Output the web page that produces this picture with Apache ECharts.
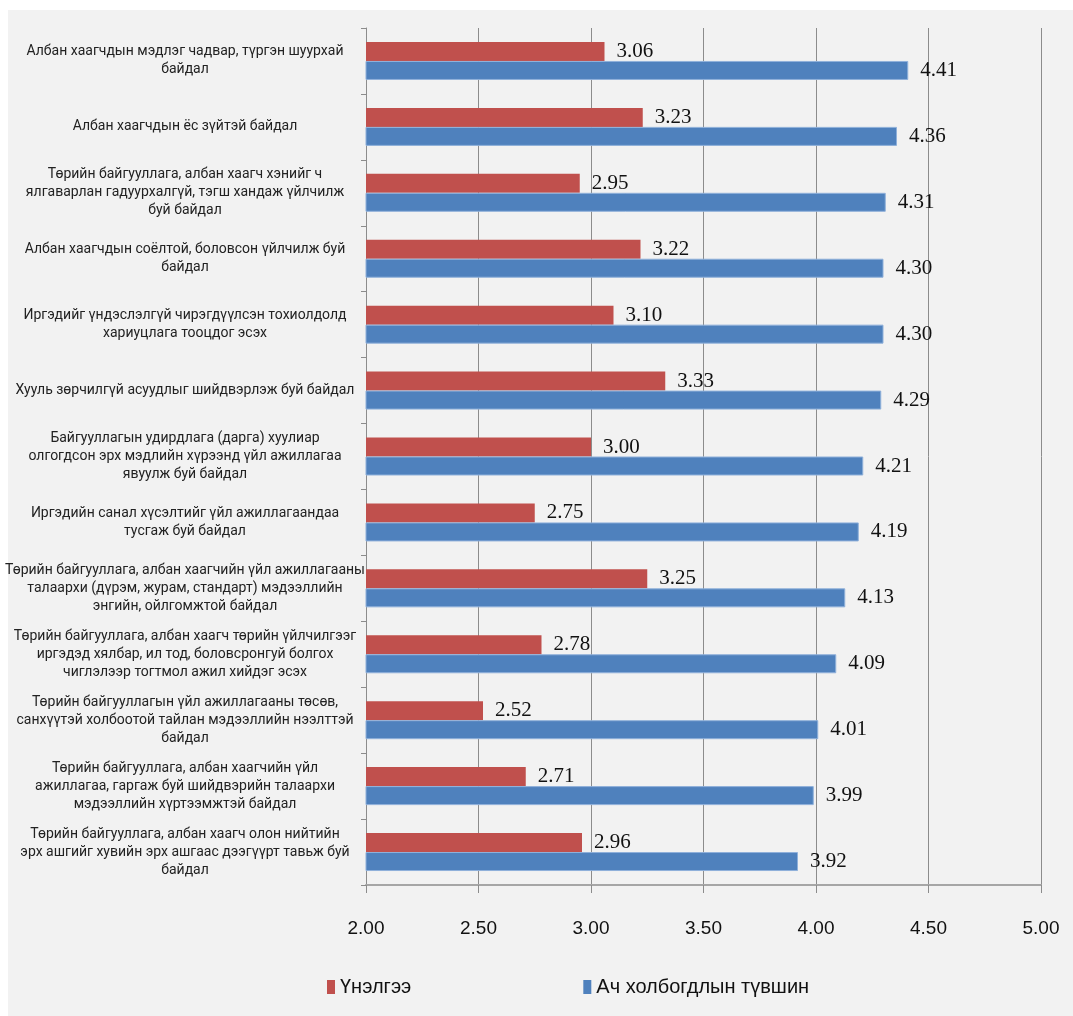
<!DOCTYPE html>
<html><head><meta charset="utf-8">
<script src="https://cdn.jsdelivr.net/npm/echarts@6/dist/echarts.min.js"></script>
<style>
html,body{margin:0;padding:0;background:#fff;}
#bg{position:absolute;left:8px;top:10px;width:1065px;height:1006px;background:#F2F2F2;}
#chart{position:absolute;left:0;top:0;width:1073px;height:1016px;}
</style></head>
<body>
<div id="bg"></div>
<div id="chart"></div>
<script>
const categories = [
  "Албан хаагчдын мэдлэг чадвар, түргэн шуурхай\nбайдал",
  "Албан хаагчдын ёс зүйтэй байдал",
  "Төрийн байгууллага, албан хаагч хэнийг ч\nялгаварлан гадуурхалгүй, тэгш хандаж үйлчилж\nбуй байдал",
  "Албан хаагчдын соёлтой, боловсон үйлчилж буй\nбайдал",
  "Иргэдийг үндэслэлгүй чирэгдүүлсэн тохиолдолд\nхариуцлага тооцдог эсэх",
  "Хууль зөрчилгүй асуудлыг шийдвэрлэж буй байдал",
  "Байгууллагын удирдлага (дарга) хуулиар\nолгогдсон эрх мэдлийн хүрээнд үйл ажиллагаа\nявуулж буй байдал",
  "Иргэдийн санал хүсэлтийг үйл ажиллагаандаа\nтусгаж буй байдал",
  "Төрийн байгууллага, албан хаагчийн үйл ажиллагааны\nталаархи (дүрэм, журам, стандарт) мэдээллийн\nэнгийн, ойлгомжтой байдал",
  "Төрийн байгууллага, албан хаагч төрийн үйлчилгээг\nиргэдэд хялбар, ил тод, боловсронгуй болгох\nчиглэлээр тогтмол ажил хийдэг эсэх",
  "Төрийн байгууллагын үйл ажиллагааны төсөв,\nсанхүүтэй холбоотой тайлан мэдээллийн нээлттэй\nбайдал",
  "Төрийн байгууллага, албан хаагчийн үйл\nажиллагаа, гаргаж буй шийдвэрийн талаархи\nмэдээллийн хүртээмжтэй байдал",
  "Төрийн байгууллага, албан хаагч олон нийтийн\nэрх ашгийг хувийн эрх ашгаас дээгүүрт тавьж буй\nбайдал"
];
const seriesNames = ["Үнэлгээ", "Ач холбогдлын түвшин"];
const evaluation = [3.06, 3.23, 2.95, 3.22, 3.10, 3.33, 3.00, 2.75, 3.25, 2.78, 2.52, 2.71, 2.96];
const importance = [4.41, 4.36, 4.31, 4.30, 4.30, 4.29, 4.21, 4.19, 4.13, 4.09, 4.01, 3.99, 3.92];

const chart = echarts.init(document.getElementById('chart'));
const labelFont = {show:true, position:'right', distance:12, color:'#111', fontFamily:"'Liberation Serif', serif", fontSize:21,
  formatter: p => p.value.toFixed(2)};
const catFont = "Roboto, 'Noto Sans', sans-serif";
chart.setOption({
  animation:false,
  backgroundColor:'transparent',
  grid:{left:366, right:32, top:28, bottom:131, containLabel:false, outerBoundsMode:'none'},
  legend:{
    bottom:14, left:322, itemGap:172, itemWidth:8, itemHeight:14,
    textStyle:{fontFamily:"'Liberation Sans', sans-serif", fontSize:20, color:'#111'},
    icon:'rect',
    itemStyle:{borderWidth:0},
    data:seriesNames
  },
  xAxis:{
    type:'value', min:2, max:5, interval:0.5,
    axisLine:{show:true, lineStyle:{color:'#a6a6a6', width:2}},
    axisTick:{show:true, length:8, lineStyle:{color:'#8c8c8c'}},
    splitLine:{show:true, lineStyle:{color:'#8c8c8c', width:1}},
    axisLabel:{margin:34, color:'#111', fontFamily:"'Liberation Sans', sans-serif", fontSize:19,
      formatter: v => v.toFixed(2)}
  },
  yAxis:{
    type:'category', inverse:true, data:categories,
    axisLine:{show:true, lineStyle:{color:'#8c8c8c', width:1}},
    axisTick:{show:true, length:5, lineStyle:{color:'#8c8c8c'}},
    axisLabel:{margin:2, align:'right', color:'#222',
      fontFamily:catFont, fontSize:14, lineHeight:18,
      formatter: v => v.split('\n').map(s => '{c|' + s + '}').join('\n'),
      rich:{c:{width:358, align:'center', fontFamily:catFont, fontSize:14, lineHeight:18, color:'#222'}}}
  },
  series:[
    {name:seriesNames[0], type:'bar', data:evaluation, barWidth:19, barGap:'0%',
     itemStyle:{color:'#C0504D'}, label:labelFont},
    {name:seriesNames[1], type:'bar', data:importance, barWidth:19, barGap:'0%',
     itemStyle:{color:'#4F81BD', borderColor:'#8FB0DA', borderWidth:1}, label:labelFont}
  ]
});
</script>
</body></html>
